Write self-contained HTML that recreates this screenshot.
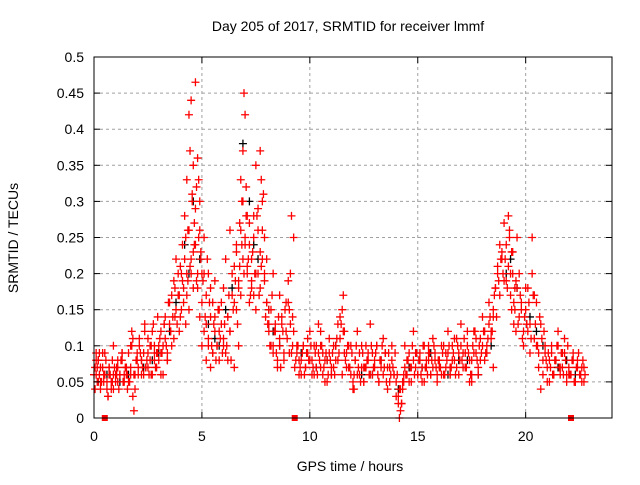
<!DOCTYPE html>
<html><head><meta charset="utf-8"><style>
body{margin:0;background:#fff;}
svg text{font-family:"Liberation Sans",sans-serif;font-size:14px;fill:#000;}
</style></head><body>
<svg id="chart" width="640" height="480" viewBox="0 0 640 480" xmlns="http://www.w3.org/2000/svg">
<rect width="640" height="480" fill="#fff"/>
<g id="grid"></g>
<g id="black"></g>
<g id="red"></g>
<g id="axes"></g>
<text x="348" y="31" text-anchor="middle">Day 205 of 2017, SRMTID for receiver lmmf</text>
<text x="350" y="471" text-anchor="middle">GPS time / hours</text>
<text x="18" y="238" text-anchor="middle" transform="rotate(-90 18 238)">SRMTID / TECUs</text>
</svg>
<script>
const xTicks=[0,5,10,15,20];
const yTicks=[0,0.05,0.1,0.15,0.2,0.25,0.3,0.35,0.4,0.45,0.5];
const yTickLabels=["0","0.05","0.1","0.15","0.2","0.25","0.3","0.35","0.4","0.45","0.5"];
const gapTimes=[0.5,9.3,22.1];
const redT=[0.05,0.1,0.15,0.2,0.25,0.3,0.4,0.45,0.5,0.6,0.65,0.7,0.8,0.85,0.9,1.0,1.05,1.1,1.2,1.3,1.35,1.4,1.5,1.55,1.6,1.7,1.75,1.8,1.85,1.9,2.0,2.05,2.1,2.2,2.3,2.35,2.4,2.5,2.6,2.65,2.7,2.8,2.9,2.95,3.0,3.1,3.2,3.25,3.3,3.4,3.5,3.55,3.6,3.7,3.75,3.8,3.9,3.95,4.0,4.05,4.1,4.15,4.2,4.25,4.3,4.3,4.35,4.4,4.4,4.45,4.5,4.5,4.55,4.6,4.6,4.65,4.7,4.7,4.75,4.8,4.8,4.85,4.9,4.9,4.95,5.0,5.0,5.1,5.1,5.2,5.2,5.3,5.3,5.4,5.4,5.5,5.5,5.6,5.6,5.7,5.8,5.8,5.9,6.0,6.0,6.1,6.2,6.2,6.3,6.3,6.4,6.5,6.5,6.6,6.6,6.7,6.7,6.75,6.8,6.8,6.85,6.9,6.9,6.95,7.0,7.0,7.05,7.1,7.1,7.2,7.2,7.3,7.3,7.4,7.4,7.5,7.5,7.6,7.6,7.7,7.7,7.75,7.8,7.8,7.9,7.9,8.0,8.0,8.1,8.1,8.2,8.3,8.3,8.4,8.5,8.6,8.6,8.7,8.8,8.9,9.0,9.05,9.1,9.15,9.2,9.25,9.4,9.5,9.6,9.7,9.8,9.9,10.0,10.1,10.2,10.3,10.4,10.5,10.6,10.7,10.8,10.9,11.0,11.1,11.2,11.3,11.4,11.5,11.55,11.6,11.7,11.8,11.9,12.0,12.05,12.1,12.2,12.3,12.4,12.5,12.6,12.7,12.8,12.9,13.0,13.1,13.2,13.3,13.4,13.5,13.6,13.7,13.8,13.9,14.0,14.1,14.15,14.2,14.25,14.3,14.35,14.4,14.5,14.6,14.7,14.8,14.9,15.0,15.1,15.2,15.3,15.4,15.5,15.6,15.7,15.8,15.9,16.0,16.1,16.2,16.3,16.4,16.5,16.6,16.7,16.8,16.9,17.0,17.1,17.2,17.3,17.4,17.5,17.6,17.7,17.8,17.9,18.0,18.1,18.2,18.3,18.4,18.5,18.6,18.7,18.8,18.9,19.0,19.1,19.2,19.25,19.3,19.35,19.4,19.45,19.5,19.55,19.6,19.7,19.8,19.9,20.0,20.05,20.1,20.2,20.3,20.4,20.5,20.6,20.7,20.8,20.9,21.0,21.1,21.2,21.3,21.4,21.5,21.6,21.7,21.8,21.9,22.0,22.2,22.3,22.4,22.5,22.6,22.7,
0.1,0.2,0.3,0.5,0.7,0.9,1.1,1.3,1.5,1.7,2.2,2.5,2.8,3.1,3.4,10.5,11.0,12.5,13.5,15.5,16.5,17.5,18.5,10.2,12.2,15.2,16.2,17.2,13.2,11.8];
const redV=[0.07,0.09,0.05,0.08,0.06,0.04,0.07,0.05,0.06,0.04,0.03,0.06,0.05,0.08,0.04,0.06,0.07,0.05,0.06,0.09,0.05,0.06,0.07,0.04,0.05,0.1,0.12,0.03,0.01,0.06,0.09,0.07,0.11,0.08,0.06,0.13,0.07,0.09,0.1,0.06,0.12,0.08,0.07,0.14,0.1,0.09,0.06,0.13,0.11,0.08,0.16,0.12,0.1,0.19,0.14,0.22,0.17,0.12,0.21,0.15,0.24,0.18,0.28,0.13,0.33,0.2,0.26,0.42,0.15,0.37,0.44,0.22,0.3,0.35,0.18,0.27,0.465,0.24,0.32,0.36,0.2,0.25,0.3,0.14,0.22,0.2,0.1,0.25,0.12,0.17,0.08,0.2,0.1,0.14,0.07,0.16,0.09,0.19,0.12,0.1,0.15,0.08,0.13,0.18,0.1,0.22,0.14,0.08,0.26,0.12,0.17,0.07,0.21,0.24,0.15,0.19,0.1,0.27,0.17,0.33,0.3,0.22,0.37,0.45,0.25,0.42,0.32,0.2,0.28,0.24,0.16,0.19,0.22,0.17,0.28,0.15,0.35,0.2,0.26,0.37,0.18,0.33,0.22,0.3,0.25,0.2,0.16,0.22,0.13,0.15,0.1,0.2,0.09,0.12,0.07,0.17,0.1,0.13,0.08,0.12,0.16,0.09,0.2,0.28,0.14,0.25,0.1,0.08,0.06,0.1,0.07,0.09,0.12,0.08,0.06,0.1,0.13,0.07,0.09,0.05,0.08,0.11,0.06,0.07,0.1,0.08,0.14,0.06,0.17,0.12,0.09,0.07,0.1,0.05,0.04,0.08,0.12,0.06,0.1,0.05,0.07,0.09,0.13,0.06,0.08,0.1,0.05,0.07,0.11,0.09,0.04,0.07,0.1,0.06,0.03,0.02,0.0,0.04,0.02,0.05,0.06,0.1,0.08,0.05,0.07,0.12,0.09,0.06,0.08,0.05,0.1,0.07,0.09,0.06,0.11,0.08,0.05,0.07,0.1,0.06,0.09,0.12,0.07,0.1,0.08,0.11,0.06,0.13,0.09,0.07,0.1,0.05,0.08,0.12,0.09,0.06,0.11,0.14,0.08,0.1,0.16,0.12,0.14,0.18,0.2,0.24,0.22,0.27,0.19,0.28,0.25,0.2,0.15,0.23,0.13,0.18,0.12,0.25,0.2,0.15,0.1,0.18,0.13,0.12,0.09,0.25,0.17,0.1,0.07,0.04,0.06,0.09,0.05,0.08,0.1,0.06,0.08,0.12,0.07,0.09,0.11,0.06,
0.06,0.08,0.05,0.07,0.06,0.05,0.07,0.06,0.08,0.05,0.09,0.07,0.1,0.08,0.09,0.07,0.06,0.08,0.07,0.09,0.06,0.08,0.1,0.06,0.07,0.09,0.08,0.06,0.05,0.07];
// regularly sampled extra red observations (start 0.0 h and 0.05 h, step 0.1 h)
const sampleStep=0.1;
const redV2=[0.06,0.08,0.05,0.07,0.09,0.06,0.05,0.07,0.04,0.06,
0.05,0.07,0.06,0.08,0.05,0.06,0.09,0.07,0.11,0.04,
0.08,0.1,0.06,0.09,0.07,0.11,0.08,0.06,0.1,0.09,
0.08,0.12,0.1,0.14,0.09,0.13,0.17,0.11,0.15,0.2,
0.14,0.19,0.22,0.17,0.26,0.2,0.23,0.29,0.18,0.26,
0.16,0.2,0.13,0.11,0.18,0.09,0.14,0.1,0.12,0.16,
0.11,0.09,0.14,0.12,0.2,0.16,0.23,0.18,0.26,0.3,
0.24,0.21,0.27,0.18,0.25,0.2,0.29,0.23,0.26,0.19,
0.16,0.12,0.15,0.1,0.13,0.08,0.11,0.14,0.09,0.16,
0.19,0.13,0.1,0.07,0.09,0.06,0.08,0.1,0.07,0.11,
0.08,0.06,0.1,0.07,0.09,0.12,0.06,0.08,0.05,0.09,
0.07,0.1,0.08,0.13,0.11,0.15,0.09,0.07,0.1,0.06,
0.04,0.08,0.06,0.09,0.07,0.05,0.1,0.08,0.06,0.09,
0.07,0.1,0.05,0.08,0.06,0.09,0.07,0.05,0.08,0.06,
0.05,0.03,0.01,0.04,0.07,0.06,0.09,0.05,0.08,0.07,
0.06,0.09,0.07,0.05,0.08,0.1,0.06,0.07,0.09,0.06,
0.08,0.06,0.1,0.07,0.09,0.06,0.08,0.11,0.07,0.09,
0.1,0.07,0.09,0.12,0.08,0.06,0.09,0.11,0.07,0.08,
0.1,0.12,0.09,0.13,0.11,0.15,0.18,0.21,0.17,0.23,
0.19,0.24,0.21,0.17,0.2,0.15,0.18,0.14,0.16,0.12,
0.15,0.18,0.13,0.2,0.11,0.16,0.09,0.13,0.08,0.1,
0.07,0.05,0.09,0.06,0.08,0.1,0.06,0.07,0.09,0.05,
0.07,0.06,0.09,0.05,0.08,0.06,0.07,0.05];
const redV3=[0.04,0.07,0.09,0.05,0.06,0.08,0.03,0.06,0.05,0.07,
0.06,0.04,0.08,0.05,0.07,0.06,0.05,0.1,0.06,0.08,
0.06,0.09,0.07,0.12,0.08,0.06,0.1,0.13,0.07,0.09,
0.11,0.09,0.13,0.1,0.16,0.12,0.14,0.18,0.13,0.17,
0.2,0.16,0.25,0.19,0.21,0.31,0.24,0.19,0.33,0.23,
0.19,0.14,0.22,0.16,0.1,0.13,0.08,0.15,0.11,0.09,
0.13,0.1,0.17,0.08,0.15,0.19,0.13,0.21,0.24,0.2,
0.28,0.22,0.17,0.23,0.2,0.28,0.17,0.21,0.31,0.14,
0.13,0.1,0.17,0.12,0.09,0.14,0.07,0.12,0.15,0.11,
0.15,0.09,0.12,0.08,0.1,0.07,0.09,0.06,0.09,0.08,
0.1,0.07,0.09,0.06,0.08,0.1,0.07,0.09,0.06,0.08,
0.09,0.06,0.11,0.09,0.13,0.12,0.08,0.1,0.07,0.09,
0.06,0.1,0.07,0.05,0.09,0.07,0.08,0.06,0.1,0.07,
0.09,0.06,0.08,0.1,0.07,0.05,0.09,0.06,0.07,0.09,
0.06,0.04,0.02,0.05,0.06,0.08,0.07,0.1,0.06,0.09,
0.08,0.06,0.1,0.07,0.06,0.09,0.08,0.1,0.07,0.08,
0.07,0.09,0.06,0.08,0.1,0.07,0.09,0.06,0.1,0.08,
0.08,0.11,0.07,0.09,0.06,0.1,0.12,0.08,0.1,0.09,
0.12,0.09,0.11,0.14,0.12,0.17,0.14,0.19,0.22,0.2,
0.22,0.18,0.26,0.23,0.16,0.19,0.13,0.17,0.11,0.14,
0.13,0.16,0.11,0.17,0.13,0.1,0.14,0.11,0.12,0.08,
0.09,0.07,0.06,0.08,0.1,0.07,0.09,0.06,0.08,0.1,
0.06,0.08,0.05,0.07,0.09,0.06,0.08,0.06];
const blackT=[0.2,0.6,1.2,2.3,3.0,3.8,4.2,4.6,4.9,5.3,5.8,6.4,6.9,7.2,7.6,8.1,8.6,9.6,10.3,11.2,12.4,13.3,14.6,15.6,16.4,17.3,18.4,19.3,19.6,20.2,20.8,21.5,22.3,1.6,2.7,3.5,4.4,5.6,6.1,7.4,8.3,10.8,12.9,14.1,15.2,16.9,17.8,19.1,20.5,21.9];
const blackV=[0.08,0.06,0.05,0.07,0.09,0.16,0.24,0.3,0.22,0.13,0.1,0.18,0.38,0.3,0.22,0.15,0.1,0.09,0.07,0.1,0.06,0.08,0.07,0.09,0.06,0.08,0.1,0.22,0.18,0.14,0.1,0.07,0.06,0.06,0.08,0.12,0.2,0.11,0.15,0.24,0.12,0.08,0.06,0.04,0.07,0.08,0.06,0.2,0.12,0.08];
const X0=94,X1=612,Y0=418,Y1=57;
function sx(t){return X0+t*(X1-X0)/24;}
function sy(v){return Y0-v*(Y0-Y1)/0.5;}
const NS="http://www.w3.org/2000/svg";
function mk(tag,attrs,parent){const e=document.createElementNS(NS,tag);for(const k in attrs)e.setAttribute(k,attrs[k]);parent.appendChild(e);return e;}
const grid=document.getElementById('grid'),axes=document.getElementById('axes');
yTicks.forEach((v,i)=>{
 if(i>0&&i<yTicks.length-1){const l=mk('line',{x1:X0,x2:X1,y1:sy(v),y2:sy(v),stroke:'#a0a0a0','stroke-dasharray':'3,3'},grid);
 
 }
 const t=mk('text',{x:X0-10,y:sy(v)+5,'text-anchor':'end'},axes);t.textContent=yTickLabels[i];
 
 
 mk('line',{x1:X0,x2:X0+6,y1:sy(v),y2:sy(v),stroke:'#000'},axes);
 mk('line',{x1:X1,x2:X1-6,y1:sy(v),y2:sy(v),stroke:'#000'},axes);
});
xTicks.forEach(v=>{
 if(v>0){const l=mk('line',{x1:sx(v),x2:sx(v),y1:Y0,y2:Y1,stroke:'#a0a0a0','stroke-dasharray':'3,3'},grid);
 
 }
 const t=mk('text',{x:sx(v),y:Y0+23,'text-anchor':'middle'},axes);t.textContent=String(v);
 
 
 mk('line',{x1:sx(v),x2:sx(v),y1:Y0,y2:Y0-6,stroke:'#000'},axes);
 mk('line',{x1:sx(v),x2:sx(v),y1:Y1,y2:Y1+6,stroke:'#000'},axes);
});
const fr=mk('rect',{x:X0,y:Y1,width:X1-X0,height:Y0-Y1,fill:'none',stroke:'#000'},axes);


function plus(g,t,v,c){const x=sx(t),y=sy(v);
 const p=mk('path',{d:`M${x-4},${y}H${x+4}M${x},${y-4}V${y+4}`,stroke:c,'stroke-width':1.3,fill:'none'},g);
 
 }
const bg=document.getElementById('black'),rg=document.getElementById('red');
blackT.forEach((t,i)=>plus(bg,t,blackV[i],'#000'));
redV2.forEach((v,i)=>plus(rg,i*sampleStep,v,'#ff0000'));
redV3.forEach((v,i)=>plus(rg,0.05+i*sampleStep,v,'#ff0000'));
redT.forEach((t,i)=>plus(rg,t,redV[i],'#ff0000'));
gapTimes.forEach(t=>{const r=mk('rect',{x:sx(t)-3,y:Y0-3,width:6,height:6,fill:'#ff0000'},rg);
 
 });
</script>
</body></html>
